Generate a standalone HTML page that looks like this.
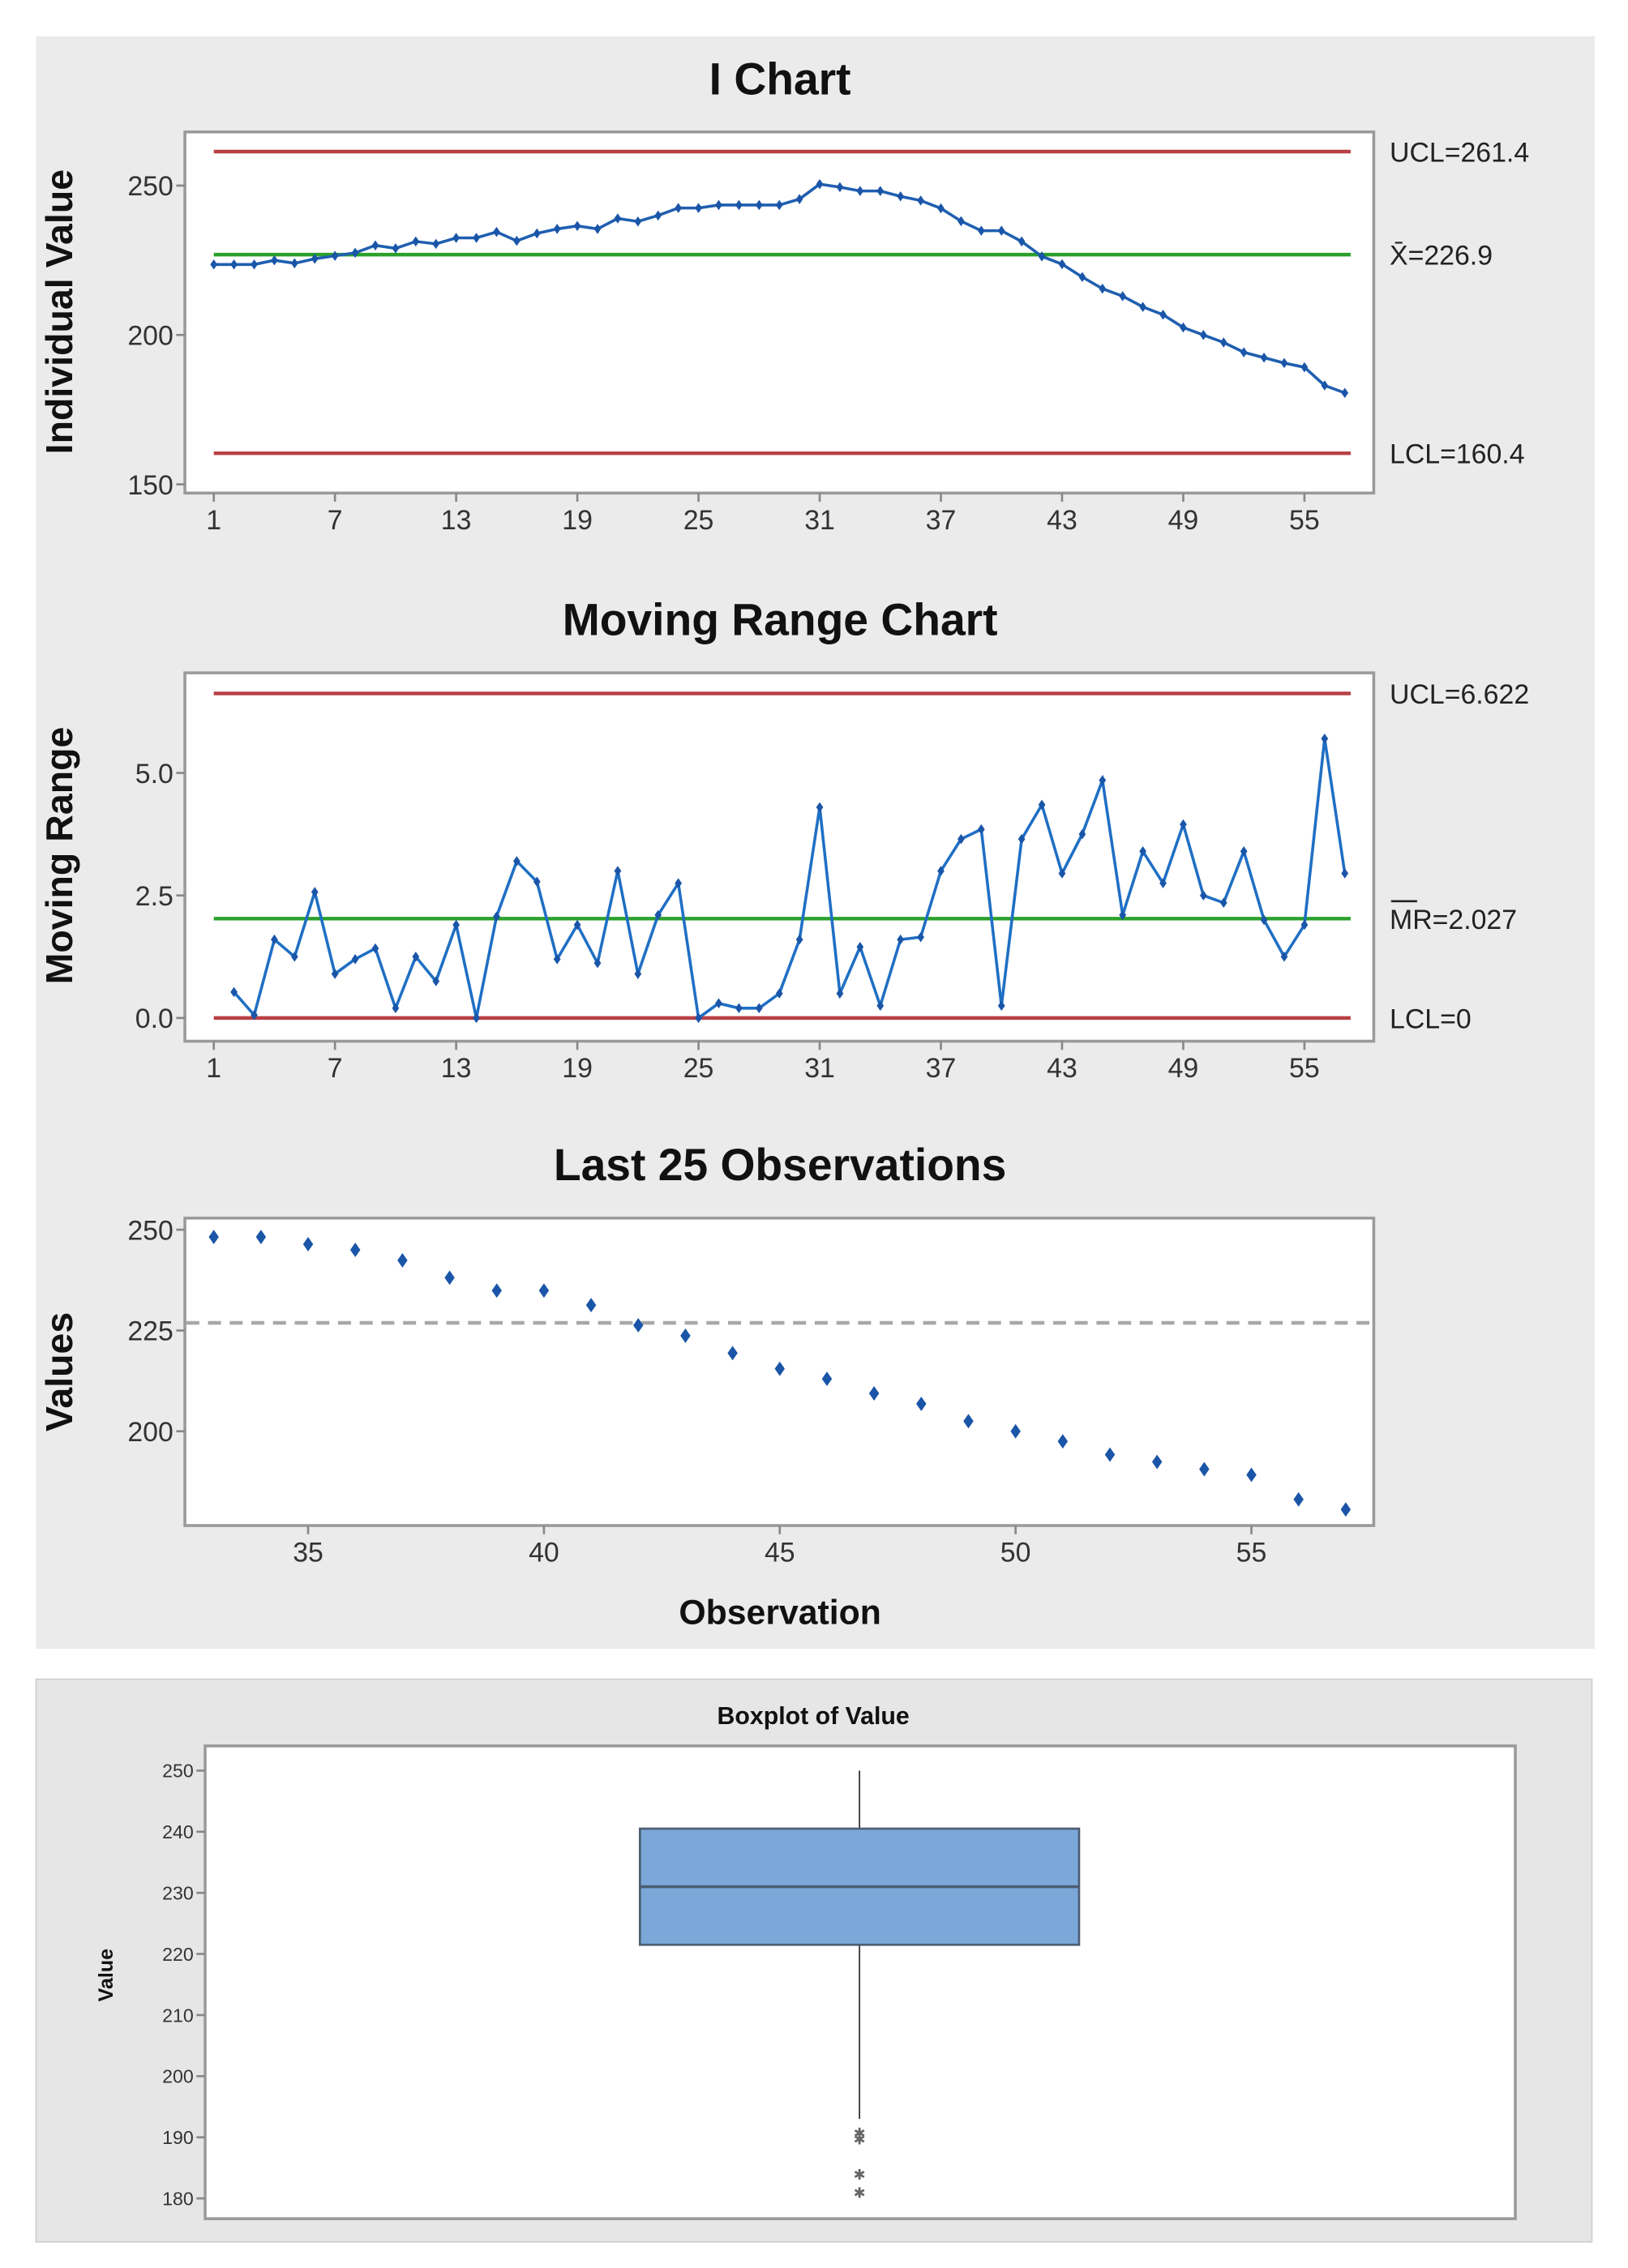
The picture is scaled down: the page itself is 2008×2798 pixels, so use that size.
<!DOCTYPE html>
<html><head><meta charset="utf-8"><style>
html,body{margin:0;padding:0;background:#fff;}
svg{display:block;font-family:"Liberation Sans",Arial,sans-serif;}
</style></head><body>
<svg id="root" width="2008" height="2798" viewBox="0 0 1127 1564" preserveAspectRatio="none" xmlns="http://www.w3.org/2000/svg">
<rect x="25" y="25" width="1079" height="1112" fill="#ebebeb"/>
<rect x="25" y="1158" width="1077" height="388" fill="#e6e6e6" stroke="#d0d0d0"/>
<g id="g"></g>
</svg>
<script>
// I chart data
const obsI = Array.from({length:57},(_,i)=>i+1);
const valuesI = [223.6,223.6,223.6,225,224,225.5,226.5,227.5,230,229,231.3,230.5,232.5,232.5,234.5,231.5,234,235.5,236.5,235.5,239,238,240,242.5,242.5,243.5,243.5,243.5,243.5,245.5,250.5,249.5,248.2,248.2,246.4,245,242.4,238.1,234.9,234.9,231.3,226.3,223.7,219.4,215.5,213,209.4,206.8,202.5,200,197.5,194.2,192.4,190.6,189.2,183.1,180.6];
const iLimits = [261.4,226.9,160.4];
const iLimitLabels = ["UCL=261.4","X̄=226.9","LCL=160.4"];
const iYTicks = [150,200,250];
const xTicksObs = [1,7,13,19,25,31,37,43,49,55];
// Moving range data (obs 2..57)
const mrValues = [0.53,0.06,1.6,1.25,2.57,0.9,1.2,1.42,0.2,1.25,0.75,1.9,0,2.07,3.2,2.78,1.2,1.9,1.12,3.0,0.9,2.1,2.75,0,0.3,0.2,0.2,0.5,1.6,4.3,0.5,1.45,0.25,1.6,1.65,3.0,3.65,3.85,0.25,3.65,4.35,2.95,3.75,4.85,2.1,3.4,2.75,3.95,2.5,2.35,3.4,2.0,1.25,1.9,5.7,2.95];
const mrLimits = [6.622,2.027,0];
const mrLimitLabels = ["UCL=6.622","MR=2.027","LCL=0"];
const mrYTicks = ["0.0","2.5","5.0"];
// Last 25
const last25Obs = Array.from({length:25},(_,i)=>i+33);
const last25Ticks = [35,40,45,50,55];
const last25YTicks = [200,225,250];
const last25Mean = [226.9];
// Boxplot
const boxStats = [180.6,221.5,231,240.5,250];
const boxWhiskerLow = [193];
const boxOutliers = [190.8,189.8,184,181];
const boxYTicks = [180,190,200,210,220,230,240,250];

const NS="http://www.w3.org/2000/svg";
const G=document.getElementById('g');
function el(t,a,p){const e=document.createElementNS(NS,t);for(const k in a)e.setAttribute(k,a[k]);(p||G).appendChild(e);return e;}
function txt(s,a,p){const e=el('text',a,p);e.textContent=s;return e;}

function frame(x0,y0,x1,y1,name){
  const r=el('rect',{x:x0,y:y0,width:x1-x0,height:y1-y0,fill:'#fff',stroke:'#9a9a9a','stroke-width':2});
  
  
}
function title(s,x,y,size,name){
  const t=txt(s,{x:x,y:y,'text-anchor':'middle','font-size':size,'font-weight':'bold',fill:'#111'});
  
  
}
function ytitle(s,x,y,size,name){
  const t=txt(s,{x:0,y:0,'text-anchor':'middle','font-size':size,'font-weight':'bold',fill:'#111',transform:`translate(${x},${y}) rotate(-90)`});
  
  
}
function yTick(label,y,xl,size,name){
  const l=el('line',{x1:xl-6,x2:xl,y1:y,y2:y,stroke:'#888','stroke-width':1.5});
  
  
  const t=txt(label,{x:xl-8,y:y+size*0.36,'text-anchor':'end','font-size':size,fill:'#333'});
  
  
}
function xTick(label,x,yb,size,name){
  const l=el('line',{x1:x,x2:x,y1:yb,y2:yb+6,stroke:'#888','stroke-width':1.5});
  
  
  const t=txt(label,{x:x,y:yb+size+6,'text-anchor':'middle','font-size':size,fill:'#333'});
  
  
}
function diamond(x,y,r,name){
  const d=el('path',{d:`M${x},${y-r}L${x+r*0.7},${y}L${x},${y+r}L${x-r*0.7},${y}Z`,fill:'#1a55a8'});
  
  
}

// ---------- I Chart ----------
(function(){
  const xI=o=>148+(o-1)*(903-148)/54;
  const yI=v=>128+(250-v)*(103/50);
  title('I Chart',540,65,31,'i-chart-title');
  frame(128,91,951,340,'i-chart-plot-area');
  ytitle('Individual Value',50,215,26,'i-chart-y-axis-title');
  iYTicks.forEach(v=>yTick(String(v),yI(v),128,19,'i-chart-y-tick-'+v));
  xTicksObs.forEach(o=>xTick(String(o),xI(o),340,19,'i-chart-x-tick-'+o));
  const cols=['#b84045','#2ca02c','#b84045'];
  iLimits.forEach((v,i)=>{
    const l=el('line',{x1:148,x2:935,y1:yI(v),y2:yI(v),stroke:cols[i],'stroke-width':2.5});
    
    
    const t=txt(iLimitLabels[i],{x:962,y:yI(v)+7,'font-size':19,fill:'#222'});
    
    
  });
  const p=el('polyline',{points:valuesI.map((v,i)=>xI(obsI[i])+','+yI(v)).join(' '),fill:'none',stroke:'#1f5fb0','stroke-width':2});
  
  
  valuesI.forEach((v,i)=>diamond(xI(obsI[i]),yI(v),3.5,'i-chart-point-'+obsI[i]));
})();

// ---------- MR Chart ----------
(function(){
  const xM=o=>148+(o-1)*(903-148)/54;
  const yM=v=>702-v*(84.5/2.5);
  title('Moving Range Chart',540,438,31,'mr-chart-title');
  frame(128,464,951,718,'mr-chart-plot-area');
  ytitle('Moving Range',50,590,26,'mr-chart-y-axis-title');
  mrYTicks.forEach(s=>yTick(s,yM(parseFloat(s)),128,19,'mr-chart-y-tick-'+s));
  xTicksObs.forEach(o=>xTick(String(o),xM(o),718,19,'mr-chart-x-tick-'+o));
  const cols=['#b84045','#2ca02c','#b84045'];
  mrLimits.forEach((v,i)=>{
    const l=el('line',{x1:148,x2:935,y1:yM(v),y2:yM(v),stroke:cols[i],'stroke-width':2.5});
    
    
    const t=txt(mrLimitLabels[i],{x:962,y:yM(v)+7,'font-size':19,fill:'#222'});
    
    
  });
  el('line',{x1:963,x2:981,y1:yM(mrLimits[1])-12,y2:yM(mrLimits[1])-12,stroke:'#222','stroke-width':1.5});
  const p=el('polyline',{points:mrValues.map((v,i)=>xM(i+2)+','+yM(v)).join(' '),fill:'none',stroke:'#1f6fc4','stroke-width':2});
  
  
  mrValues.forEach((v,i)=>diamond(xM(i+2),yM(v),3.5,'mr-chart-point-'+(i+2)));
})();

// ---------- Last 25 ----------
(function(){
  const xL=o=>148+(o-33)*(866-213)/20;
  const yL=v=>848+(250-v)*(69.5/25);
  title('Last 25 Observations',540,814,31,'last25-title');
  frame(128,840,951,1052,'last25-plot-area');
  ytitle('Values',50,946,26,'last25-y-axis-title');
  last25YTicks.forEach(v=>yTick(String(v),yL(v),128,19,'last25-y-tick-'+v));
  last25Ticks.forEach(o=>xTick(String(o),xL(o),1052,19,'last25-x-tick-'+o));
  const m=el('line',{x1:129,x2:950,y1:yL(last25Mean[0]),y2:yL(last25Mean[0]),stroke:'#a8a8a8','stroke-width':2.5,'stroke-dasharray':'9,6'});
  
  
  last25Obs.forEach(o=>diamond(xL(o),yL(valuesI[o-1]),5,'last25-point-'+o));
  title('Observation',540,1120,24,'last25-x-axis-title');
})();

// ---------- Boxplot ----------
(function(){
  const yB=v=>1221+(250-v)*(295/70);
  const cx=595;
  title('Boxplot of Value',563,1189,17,'boxplot-title');
  frame(142,1204,1049,1530,'boxplot-plot-area');
  ytitle('Value',78,1362,14,'boxplot-y-axis-title');
  boxYTicks.forEach(v=>yTick(String(v),yB(v),142,13,'boxplot-y-tick-'+v));
  const wu=el('line',{x1:cx,x2:cx,y1:yB(boxStats[4]),y2:yB(boxStats[3]),stroke:'#333','stroke-width':1});
  
  
  const wl=el('line',{x1:cx,x2:cx,y1:yB(boxStats[1]),y2:yB(boxWhiskerLow[0]),stroke:'#333','stroke-width':1});
  
  
  const b=el('rect',{x:443,y:yB(boxStats[3]),width:304,height:yB(boxStats[1])-yB(boxStats[3]),fill:'#7ba7d9',stroke:'#4d5d72','stroke-width':1.5});
  
  
  const md=el('line',{x1:443,x2:747,y1:yB(boxStats[2]),y2:yB(boxStats[2]),stroke:'#4d5d72','stroke-width':2});
  
  
  boxOutliers.forEach((v,i)=>{
    const t=txt('✱',{x:cx,y:yB(v)+4,'text-anchor':'middle','font-size':10,fill:'#666'});
    
    
  });
})();
</script>
</body></html>
